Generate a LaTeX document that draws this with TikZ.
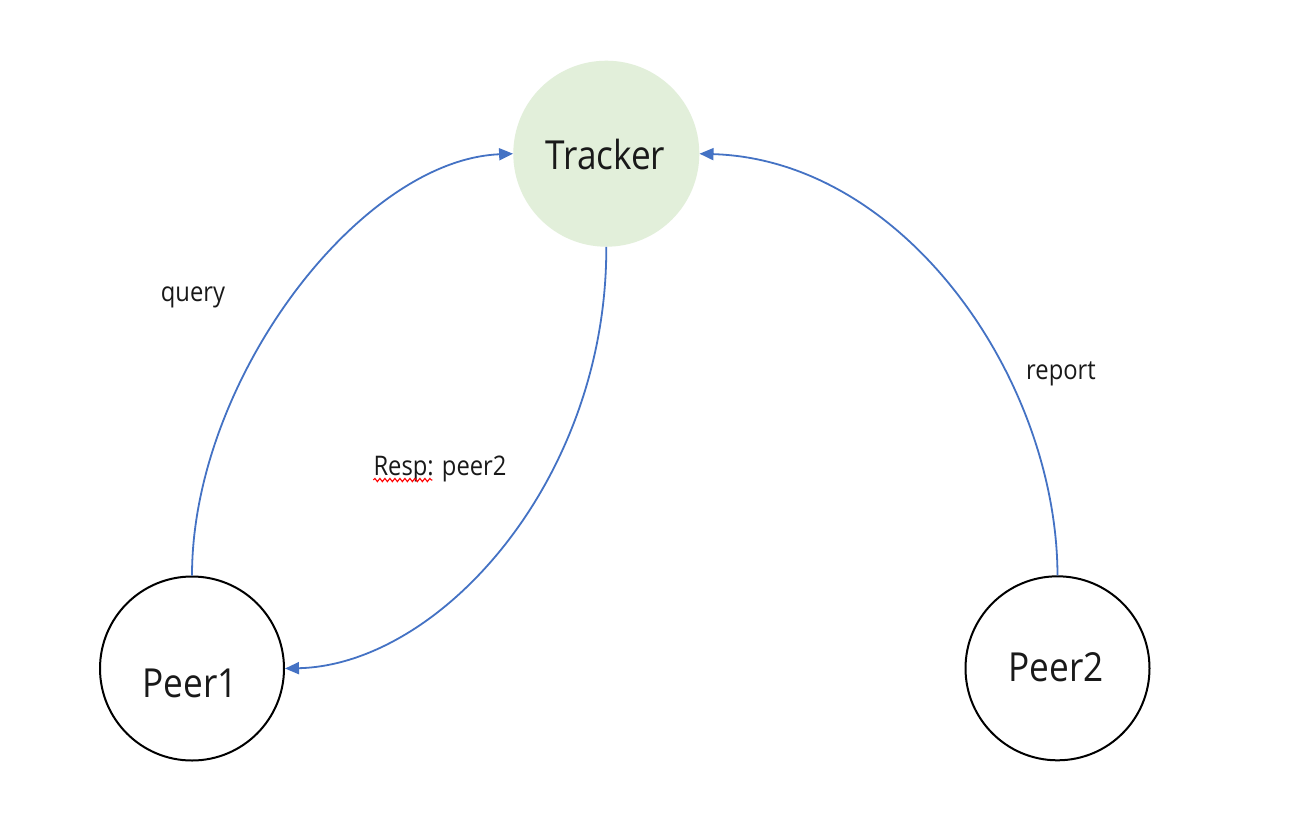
\documentclass[tikz,border=0pt]{standalone}
\usepackage{fontspec}
\setmainfont{Open Sans}[FakeStretch=0.88]
\usetikzlibrary{arrows.meta,decorations.pathmorphing,calc}
\definecolor{edgeblue}{HTML}{4472C4}
\definecolor{trackfill}{HTML}{E2EFDA}
\begin{document}
\begin{tikzpicture}[x=1pt,y=-1pt,
  peer/.style={circle,draw=black,line width=2pt,minimum size=184pt,inner sep=0pt},
  hub/.style={circle,fill=trackfill,minimum size=186pt,inner sep=0pt},
  bigtext/.style={inner sep=0pt,anchor=base,font=\fontsize{40}{48}\selectfont,text=black!90},
  smalltext/.style={inner sep=0pt,anchor=base,font=\fontsize{27}{32}\selectfont,text=black!90},
  flow/.style={draw=edgeblue,line width=1.8pt,-{Triangle[length=14pt,width=12pt]}},
  squiggle/.style={draw=red,line width=1.1pt,decorate,decoration={snake,segment length=5pt,amplitude=1.6pt}}]
\useasboundingbox (0,0) rectangle (1302,831);
\fill[white] (0,0) rectangle (1302,831);
% nodes
\node[hub] (tr) at (606.3,153.7) {};
\node[peer] (p1) at (192,668.5) {};
\node[peer] (p2) at (1057.5,668.3) {};
\node[bigtext] (trt) at (605.5,169.3) {Tracker};
\node[bigtext] (p1t) at (190,697) {Peer1};
\node[bigtext] (p2t) at (1056,681.7) {Peer2};
% labels
\node[smalltext] (lq) at (193,301.5) {query};
\node[smalltext] (lr) at (440,475) {Resp: peer2};
\node[smalltext] (lp) at (1061,379.3) {report};
\draw[squiggle] ($(lr.base west)+(0,5)$) -- ($(lr.base west)+(59,5)$);
% connectors
\draw[flow] (p1.north) .. controls (192,380) and (360,160) .. (tr.west);
\draw[flow] (tr.south) .. controls (607,480) and (440,665) .. (p1.east);
\draw[flow] (p2.north) .. controls (1057,380) and (905,160) .. (tr.east);
\end{tikzpicture}
\end{document}
